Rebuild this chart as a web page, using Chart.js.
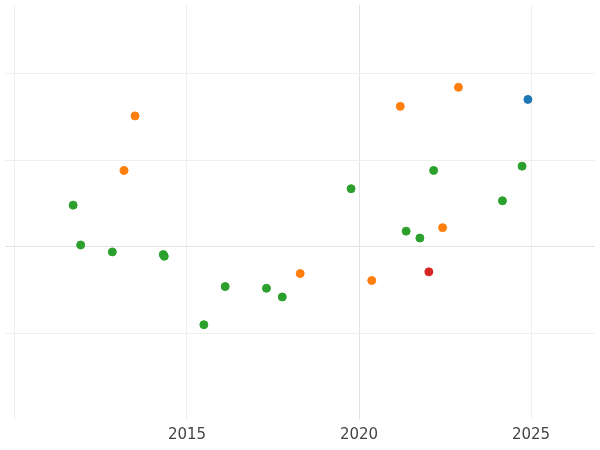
<!DOCTYPE html>
<html>
<head>
<meta charset="utf-8">
<script src="https://cdn.jsdelivr.net/npm/chart.js@4"></script>
<style>
  html, body { margin: 0; padding: 0; background: #fff; }
</style>
</head>
<body>
<canvas id="chart" width="600" height="450"></canvas>
<script>
// Valores (año, valor)
const greenX = [2011.69, 2011.91, 2012.83, 2014.31, 2014.34, 2015.49, 2016.11, 2017.31, 2017.77, 2019.77, 2021.37, 2021.77, 2022.17, 2024.17, 2024.74];
const greenY = [2.48, 2.02, 1.94, 1.91, 1.89, 1.10, 1.54, 1.52, 1.42, 2.67, 2.18, 2.10, 2.88, 2.53, 2.93];
const orangeX = [2013.49, 2013.17, 2018.29, 2020.37, 2021.20, 2022.43, 2022.89];
const orangeY = [3.51, 2.88, 1.69, 1.61, 3.62, 2.22, 3.84];
const redX = [2022.03];
const redY = [1.71];
const blueX = [2024.91];
const blueY = [3.70];
const xTicks = [2010, 2015, 2020, 2025];
const xLabels = ["", "2015", "2020", "2025"];
const yTicks = [1, 2, 3, 4];

const pts = (xs, ys) => xs.map((x, i) => ({ x: x, y: ys[i] }));
const ds = (xs, ys, color) => ({
  data: pts(xs, ys),
  backgroundColor: color,
  borderColor: color,
  pointRadius: 4,
  pointHoverRadius: 4
});

new Chart(document.getElementById("chart"), {
  type: "scatter",
  data: {
    datasets: [
      ds(greenX, greenY, "#2ca02c"),
      ds(orangeX, orangeY, "#ff7f0e"),
      ds(redX, redY, "#d62728"),
      ds(blueX, blueY, "#1f77b4")
    ]
  },
  options: {
    responsive: false,
    animation: false,
    layout: { padding: 0 },
    plugins: { legend: { display: false }, tooltip: { enabled: false } },
    scales: {
      x: {
        min: 2009.71,
        max: 2026.86,
        afterBuildTicks: (axis) => { axis.ticks = xTicks.map(v => ({ value: v })); },
        grid: { color: (c) => c.tick && c.tick.value === 2020 ? "#e2e2e2" : "#efefef", drawTicks: false },
        border: { display: false },
        ticks: {
          color: "#444",
          font: { family: "DejaVu Sans", size: 15 },
          padding: 6,
          maxRotation: 0,
          callback: (v) => xLabels[xTicks.indexOf(v)]
        }
      },
      y: {
        min: 0,
        max: 4.79,
        afterBuildTicks: (axis) => { axis.ticks = yTicks.map(v => ({ value: v })); },
        afterFit: (axis) => { axis.width = 0; },
        grid: { color: (c) => c.tick && c.tick.value === 2 ? "#e2e2e2" : "#efefef", drawTicks: false },
        border: { display: false },
        ticks: { display: false }
      }
    }
  }
});
</script>
</body>
</html>
